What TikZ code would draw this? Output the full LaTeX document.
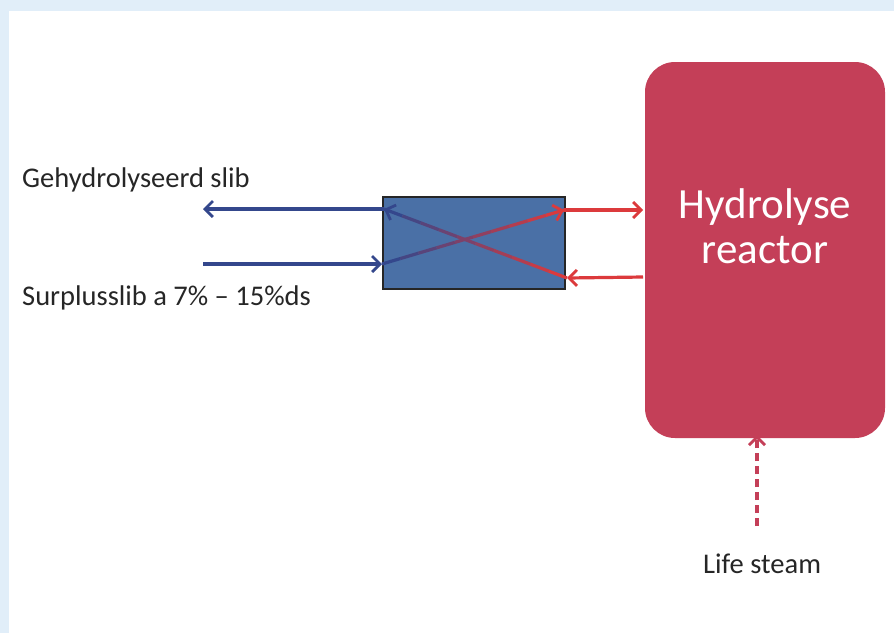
\documentclass[tikz,border=0pt]{standalone}
\usepackage{fontspec}
\setmainfont{Carlito}
\usetikzlibrary{arrows.meta,calc}
\definecolor{frameblue}{HTML}{E1EEF9}
\definecolor{reactred}{HTML}{C43F58}
\definecolor{hxblue}{HTML}{4A70A6}
\definecolor{navy}{HTML}{34478C}
\definecolor{arrred}{HTML}{DC3A3C}
\definecolor{txt}{HTML}{262626}
\tikzset{
  arr/.style={line width=3.2pt,-{Straight Barb[length=8pt,width=16pt,line width=2.8pt]}},
  lbl/.style={font=\fontsize{28.5}{34}\selectfont,text=txt,inner sep=0pt,anchor=base west}
}
\begin{document}
\begin{tikzpicture}[x=1pt,y=-1pt]
\useasboundingbox (0,0) rectangle (894,633);
\fill[frameblue] (0,0) rectangle (894,633);
\fill[white] (9,11) rectangle (894,633);
% reactor
\node[fill=reactred,rounded corners=30pt,minimum width=240pt,minimum height=376pt,inner sep=0pt] (reactor) at (765,250) {};
\node[text=white,font=\fontsize{43}{45}\selectfont,inner sep=0pt,anchor=base] (t1) at (765,218) {Hydrolyse};
\node[text=white,font=\fontsize{43}{45}\selectfont,inner sep=0pt,anchor=base] (t2) at (765,263) {reactor};
% heat exchanger
\node[draw=black!85,line width=1.4pt,fill=hxblue,minimum width=182pt,minimum height=92pt,inner sep=0pt] (hx) at (474,243) {};
% coordinates
\coordinate (hxTL) at (384,209);
\coordinate (hxBL) at (382,264);
\coordinate (hxTR) at (564,210);
\coordinate (hxBR) at (567,278);
\coordinate (outL) at (203,209);
\coordinate (inL) at (203,264);
\coordinate (rTop) at (643,210);
\coordinate (rBot) at (643,277);
\coordinate (steam) at (757,526);
% blue arrows
\draw[arr,navy] (hxTL) -- (outL);
\draw[arr,navy] (inL) -- (hxBL);
% red arrows
\draw[arr,arrred] (hxTR) -- (rTop);
\draw[arr,arrred] (rBot) -- (hxBR);
% crossing gradient lines
\foreach \i in {0,...,9}{
  \pgfmathtruncatemacro{\p}{\i*11}
  \draw[line width=3.2pt,arrred!\p!navy] ($(hxBL)!\i/10!(hxTR)$) -- ($(hxBL)!{(\i+1)/10}!(hxTR)$);
  \draw[line width=3.2pt,arrred!\p!navy] ($(hxTL)!\i/10!(hxBR)$) -- ($(hxTL)!{(\i+1)/10}!(hxBR)$);
}
\draw[arr,arrred,shorten <=17pt] ($(hxBL)!0.9!(hxTR)$) -- (hxTR);
\draw[arr,navy,shorten <=17pt] ($(hxTL)!0.1!(hxBR)$) -- (hxTL);
% steam
\draw[arr,reactred,dash pattern=on 8pt off 5pt] (steam) -- ([yshift=3pt]reactor.south -| steam);
% labels
\node[lbl] (l1) at (22,187) {Gehydrolyseerd slib};
\node[lbl] (l2) at (22,305) {Surplusslib a 7\% – 15\%ds};
\node[lbl] (l3) at (703,573) {Life steam};
\end{tikzpicture}
\end{document}
